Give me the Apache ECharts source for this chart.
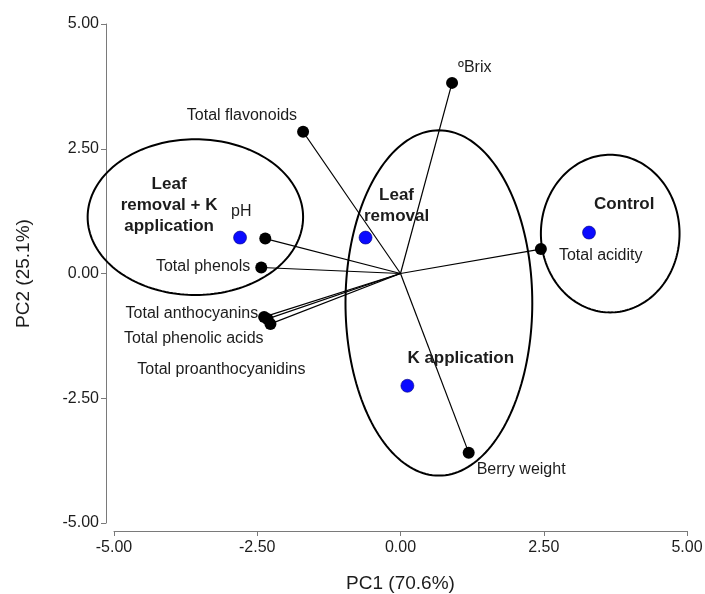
<!DOCTYPE html>
<html>
<head>
<meta charset="utf-8">
<script src="https://cdn.jsdelivr.net/npm/echarts@6/dist/echarts.min.js"></script>
<style>
  html, body { margin: 0; padding: 0; background: #fff; }
  #chart { width: 705px; height: 594px; }
</style>
</head>
<body>
<div id="chart"></div>
<script>
// loadings (black dots joined to the origin)
const variables = ['ºBrix', 'Total flavonoids', 'pH', 'Total phenols', 'Total anthocyanins',
  'Total phenolic acids', 'Total proanthocyanidins', 'Total acidity', 'Berry weight']
const loadPC1 = [0.90, -1.70, -2.36, -2.43, -2.38, -2.32, -2.27, 2.45, 1.19]
const loadPC2 = [3.82, 2.84, 0.70, 0.12, -0.87, -0.91, -1.01, 0.49, -3.59]

// treatment scores (blue dots)
const treatments = ['Leaf\nremoval + K\napplication', 'Leaf\nremoval', 'K application', 'Control']
const scorePC1 = [-2.80, -0.61, 0.12, 3.29]
const scorePC2 = [0.72, 0.72, -2.25, 0.82]

// grouping ellipses: centre and half axes
const ellipseCX = [-3.58, 0.67, 3.66]
const ellipseCY = [1.13, -0.59, 0.80]
const ellipseRX = [1.88, 1.63, 1.21]
const ellipseRY = [1.56, 3.46, 1.58]

const axisTicks = [-5, -2.5, 0, 2.5, 5]

const font = '"Liberation Sans", Arial, sans-serif'
const ink = '#1c1c1c'

// label placement relative to each dot (pixels)
const loadLabel = [
  { align: 'left', offset: [6, -15] },
  { align: 'right', offset: [-6, -16] },
  { align: 'center', offset: [-24, -27] },
  { align: 'right', offset: [-11, -1] },
  { align: 'right', offset: [-6, -3] },
  { align: 'right', offset: [-4, 20] },
  { align: 'right', offset: [35, 46] },
  { align: 'left', offset: [18, 7] },
  { align: 'left', offset: [8, 17] }
]
const scoreLabel = [
  { align: 'center', offset: [-71, -32] },
  { align: 'center', offset: [31, -32] },
  { align: 'left', offset: [0, -27] },
  { align: 'left', offset: [5, -28] }
]

const chart = echarts.init(document.getElementById('chart'))

const axisCommon = {
  type: 'value',
  min: axisTicks[0],
  max: axisTicks[axisTicks.length - 1],
  interval: 2.5,
  offset: 8,
  nameLocation: 'middle',
  nameTextStyle: { color: ink, fontSize: 19, fontFamily: font },
  axisLine: { show: true, onZero: false, lineStyle: { color: '#7a7a7a', width: 1 } },
  axisTick: { show: true, length: 5, lineStyle: { color: '#7a7a7a' } },
  axisLabel: { color: ink, fontSize: 16, fontFamily: font, formatter: v => v.toFixed(2) },
  splitLine: { show: false }
}

const option = {
  animation: false,
  backgroundColor: '#fff',
  grid: { left: 114, right: 18, top: 24, bottom: 71, outerBoundsMode: 'none' },
  xAxis: Object.assign({}, axisCommon, {
    name: 'PC1 (70.6%)',
    nameGap: 43,
    axisLabel: Object.assign({}, axisCommon.axisLabel, { margin: 9 })
  }),
  yAxis: Object.assign({}, axisCommon, {
    name: 'PC2 (25.1%)',
    nameGap: 73,
    nameTextStyle: { color: ink, fontSize: 19, fontFamily: font, letterSpacing: 1 },
    axisLabel: Object.assign({}, axisCommon.axisLabel, { margin: 7 })
  }),
  series: [
    {
      type: 'custom',
      z: 1,
      data: ellipseCX.map((cx, i) => [cx, ellipseCY[i], ellipseRX[i], ellipseRY[i]]),
      encode: { x: 0, y: 1 },
      renderItem: function (params, api) {
        const cx = api.value(0), cy = api.value(1), rx = api.value(2), ry = api.value(3)
        const pts = []
        for (let k = 0; k < 180; k++) {
          const t = (k / 180) * Math.PI * 2
          pts.push(api.coord([cx + rx * Math.cos(t), cy + ry * Math.sin(t)]))
        }
        return {
          type: 'polygon',
          shape: { points: pts },
          style: { fill: 'none', stroke: '#000', lineWidth: 2 }
        }
      }
    },
    {
      type: 'lines',
      coordinateSystem: 'cartesian2d',
      z: 2,
      lineStyle: { color: '#000', width: 1.2, opacity: 1 },
      data: loadPC1.map((x, i) => ({ coords: [[0, 0], [x, loadPC2[i]]] }))
    },
    {
      type: 'scatter',
      z: 3,
      symbolSize: 12,
      itemStyle: { color: '#000', opacity: 1 },
      data: loadPC1.map((x, i) => ({
        value: [x, loadPC2[i]],
        name: variables[i],
        label: {
          show: true,
          position: 'inside',
          formatter: '{b}',
          align: loadLabel[i].align,
          verticalAlign: 'middle',
          offset: loadLabel[i].offset,
          color: ink,
          fontSize: 16,
          fontFamily: font
        }
      }))
    },
    {
      type: 'scatter',
      z: 4,
      symbolSize: 13,
      itemStyle: { color: '#0a0aff', borderColor: '#00007a', borderWidth: 0.6, opacity: 1 },
      data: scorePC1.map((x, i) => ({
        value: [x, scorePC2[i]],
        name: treatments[i],
        label: {
          show: true,
          position: 'inside',
          formatter: '{b}',
          align: scoreLabel[i].align,
          verticalAlign: 'middle',
          offset: scoreLabel[i].offset,
          color: ink,
          fontSize: 17,
          fontWeight: 'bold',
          lineHeight: 21,
          fontFamily: font
        }
      }))
    }
  ]
}

chart.setOption(option)
</script>
</body>
</html>
